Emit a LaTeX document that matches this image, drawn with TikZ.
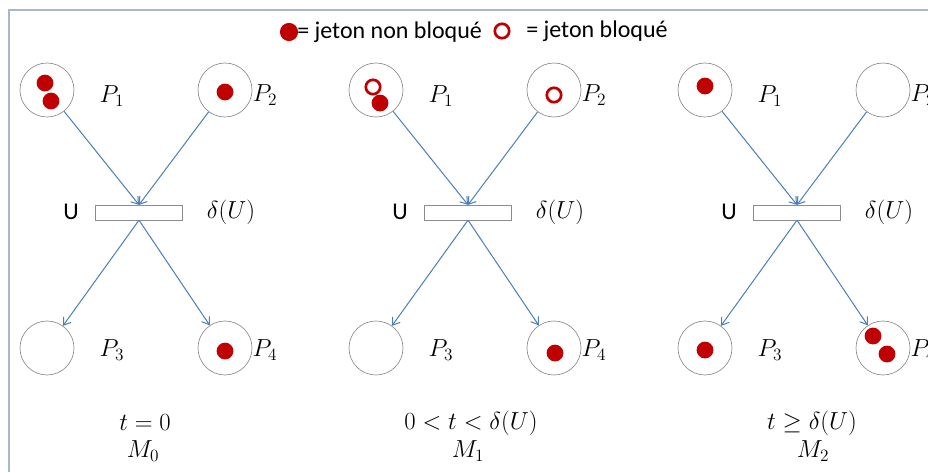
\RequirePackage{fix-cm}
\documentclass[tikz,border=0pt]{standalone}
\usepackage{amsmath}
\usepackage{fontspec}
\setsansfont{Carlito}
\usetikzlibrary{arrows.meta,calc,positioning}
\definecolor{TokenRed}{RGB}{192,0,0}
\definecolor{ArcBlue}{RGB}{74,126,187}
\definecolor{PlaceGray}{RGB}{140,140,140}
\definecolor{FrameBlue}{RGB}{168,182,206}
\tikzset{
  place/.style={circle,draw=PlaceGray,line width=0.5pt,minimum size=40.5pt,inner sep=0pt},
  trans/.style={rectangle,draw=PlaceGray,line width=0.5pt,minimum width=65pt,minimum height=11pt,inner sep=0pt},
  arc/.style={->,ArcBlue,line width=0.75pt},
  mathlbl/.style={font=\fontsize{18.5}{22}\selectfont},
  sanslbl/.style={font=\sffamily\fontsize{18}{21}\selectfont},
  token/.style={fill=TokenRed},
  held/.style={draw=TokenRed,line width=2pt}
}

\begin{document}
\begin{tikzpicture}[x=0.75pt,y=-0.75pt,>={Straight Barb[length=5pt,width=7pt]}]
  \useasboundingbox (0,0) rectangle (928,472);
  \draw[FrameBlue,line width=1.1pt] (9,472) -- (9,10) -- (928,10);
  % legend
  \fill[token] (289,32) circle (6.8pt);
  \node[sanslbl,anchor=west,inner sep=0pt] (legfree) at (297,32) {= jeton non bloqu\'e};
  \draw[held] (502,31) circle (5.4pt);
  \node[sanslbl,anchor=west,inner sep=0pt] (legheld) at (526,31) {= jeton bloqu\'e};
  % three markings
  \foreach \k/\cx in {0/139,1/468,2/797}{
    \node[trans] (t\k) at (\cx,212.5) {};
    \node[place] (a\k) at (\cx-92,90) {};
    \node[place] (b\k) at (\cx+86,90) {};
    \node[place] (c\k) at (\cx-92,348) {};
    \node[place] (d\k) at (\cx+86,348) {};
    \node[mathlbl] (la\k) at (\cx-27,96) {$P_1$};
    \node[mathlbl] (lb\k) at (\cx+126,95) {$P_2$};
    \node[mathlbl] (lc\k) at (\cx-27,350) {$P_3$};
    \node[mathlbl] (ld\k) at (\cx+126,350) {$P_4$};
    \node[sanslbl] (lu\k) at (\cx-68,212) {U};
    \node[mathlbl] (ldu\k) at (\cx+92,212) {$\delta(U)$};
    \draw[arc] (a\k) -- (t\k.north);
    \draw[arc] (b\k) -- (t\k.north);
    \draw[arc] (t\k.south) -- (c\k);
    \draw[arc] (t\k.south) -- (d\k);
  }
  % tokens, M0
  \fill[token] ($(a0)+(-2,-7)$) circle (6.3pt);
  \fill[token] ($(a0)+(4,11)$) circle (6.3pt);
  \fill[token] ($(b0)+(0,2)$) circle (6.3pt);
  \fill[token] ($(d0)+(0,3)$) circle (6.3pt);
  % tokens, M1
  \draw[held] ($(a1)+(-3,-3)$) circle (5.4pt);
  \fill[token] ($(a1)+(4,13)$) circle (6.3pt);
  \draw[held] ($(b1)+(0,5)$) circle (5.4pt);
  \fill[token] ($(d1)+(1,5)$) circle (6.3pt);
  % tokens, M2
  \fill[token] ($(a2)+(0,-4)$) circle (6.3pt);
  \fill[token] ($(c2)+(0,2)$) circle (6.3pt);
  \fill[token] ($(d2)+(-10,-12)$) circle (6.3pt);
  \fill[token] ($(d2)+(4,6)$) circle (6.3pt);
  % times and markings
  \node[mathlbl] (s0) at (145,423) {$t=0$};
  \node[mathlbl] (m0) at (143,451) {$M_0$};
  \node[mathlbl] (s1) at (471,423) {$0<t<\delta(U)$};
  \node[mathlbl] (m1) at (468,451) {$M_1$};
  \node[mathlbl] (s2) at (812,423) {$t\geq\delta(U)$};
  \node[mathlbl] (m2) at (813,451) {$M_2$};
\end{tikzpicture}
\end{document}
